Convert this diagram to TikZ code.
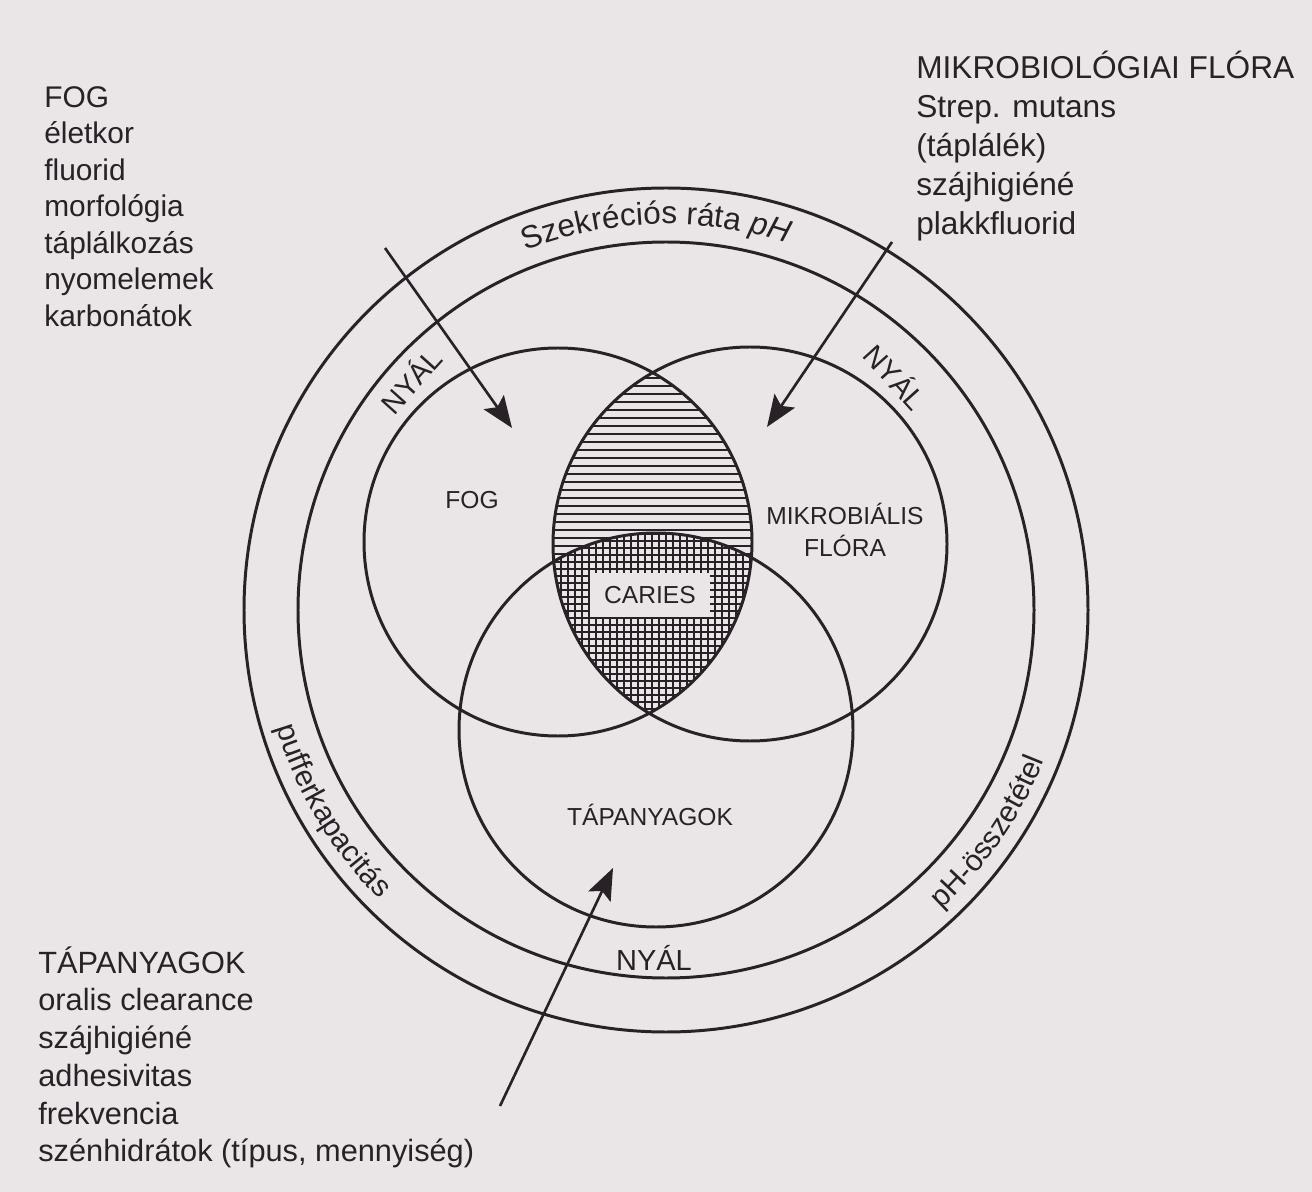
\documentclass[tikz,border=0pt]{standalone}
\usepackage{fontspec}
\setmainfont{Liberation Sans}
\usetikzlibrary{arrows.meta,decorations.text}
\definecolor{ink}{RGB}{40,34,38}
\definecolor{paper}{RGB}{234,230,232}
\tikzset{
  ring/.style={draw=ink, line width=1.7pt},
  hatch/.style={draw=ink, line width=0.9pt},
  inarrow/.style={draw=ink, line width=1.5pt, -{Stealth[length=18pt,width=14pt,inset=3.5pt]}},
  factorlist/.style={anchor=north west, align=left, inner sep=0pt, text=ink, font=\fontsize{17}{20.8}\selectfont},
  venntext/.style={inner sep=0pt, text=ink, align=center, font=\fontsize{14}{18.7}\selectfont},
  saliva/.style={inner sep=0pt, text=ink, font=\fontsize{16.5}{20}\selectfont},
  ringtext/.style={decorate, decoration={text along path, text align=center, text={#1}}},
}
\begin{document}
\begin{tikzpicture}[x=0.02cm, y=0.02cm]
\useasboundingbox[fill=paper] (0,0) rectangle (1312,-1192);
% centres
\coordinate (cRing) at (666,-610);
\coordinate (cFog) at (558,-542);
\coordinate (cMikro) at (750,-544);
\coordinate (cTap) at (656,-730);

% hatching of FOG and MIKROBIALIS FLORA
\begin{scope}
  \clip (cFog) circle[radius=194];
  \clip (cMikro) circle[radius=197];
  \foreach \y in {346,354,...,746} \draw[hatch] (540,-\y) -- (770,-\y);
\end{scope}
% all three: grid
\begin{scope}
  \clip (cFog) circle[radius=194];
  \clip (cMikro) circle[radius=197];
  \clip (cTap) circle[radius=197];
  \fill[paper] (540,-520) rectangle (770,-720);
  \foreach \y in {534,541,...,720} \draw[hatch] (540,-\y) -- (770,-\y);
  \foreach \x in {547,554,...,770} \draw[hatch] (\x,-520) -- (\x,-720);
\end{scope}

\draw[ring] (cRing) circle[radius=422] (cRing) circle[radius=368];
\draw[ring] (cFog) circle[radius=194] (cMikro) circle[radius=197] (cTap) circle[radius=197];

\node[venntext, fill=paper, minimum width=2.4cm, minimum height=0.88cm] (caries) at (650,-595) {CARIES};
\node[venntext] (fog) at (472,-500) {FOG};
\node[venntext] (mikro) at (845,-530) {MIKROBIÁLIS\\FLÓRA};
\node[venntext] (tap) at (650,-815) {TÁPANYAGOK};

\node[saliva, rotate=48] (nyalLeft) at (410,-380) {NYÁL};
\node[saliva, rotate=-48] (nyalRight) at (896,-376) {NYÁL};
\node[saliva] (nyalBottom) at (654,-958) {NYÁL};

% texts in the outer ring
\path[ringtext={|\fontsize{18}{20}\selectfont\color{ink}|Szekréciós ráta |\fontsize{18}{20}\selectfont\itshape\color{ink}|pH}]
  (cRing) ++(131.5:386) arc[start angle=131.5, end angle=51.5, radius=386];
\path[ringtext={|\fontsize{17}{20}\selectfont\color{ink}|pufferkapacitás}]
  (cRing) ++(181:407) arc[start angle=181, end angle=241, radius=407];
\path[ringtext={|\fontsize{17}{20}\selectfont\color{ink}|pH-összetétel}]
  (cRing) ++(-64:407) arc[start angle=-64, end angle=-5, radius=407];

% factor lists
\node[factorlist] (fogList) at (44,-86) {FOG\\életkor\\fluorid\\morfológia\\táplálkozás\\nyomelemek\\karbonátok};
\node[factorlist, font=\fontsize{18}{22.1}\selectfont] (floraList) at (916,-51) {MIKROBIOLÓGIAI FLÓRA\\Strep. mutans\\(táplálék)\\szájhigiéné\\plakkfluorid};
\node[factorlist, font=\fontsize{17.5}{21.5}\selectfont] (tapList) at (38,-946) {TÁPANYAGOK\\oralis clearance\\szájhigiéné\\adhesivitas\\frekvencia\\szénhidrátok (típus, mennyiség)};

% arrows
\coordinate (fogIn) at (385,-248);
\coordinate (fogTip) at (512,-428);
\coordinate (floraIn) at (892,-242);
\coordinate (floraTip) at (767,-427);
\coordinate (tapIn) at (500,-1106);
\coordinate (tapTip) at (613,-868);
\draw[inarrow] (fogIn) -- (fogTip);
\draw[inarrow] (floraIn) -- (floraTip);
\draw[inarrow] (tapIn) -- (tapTip);
\end{tikzpicture}
\end{document}
